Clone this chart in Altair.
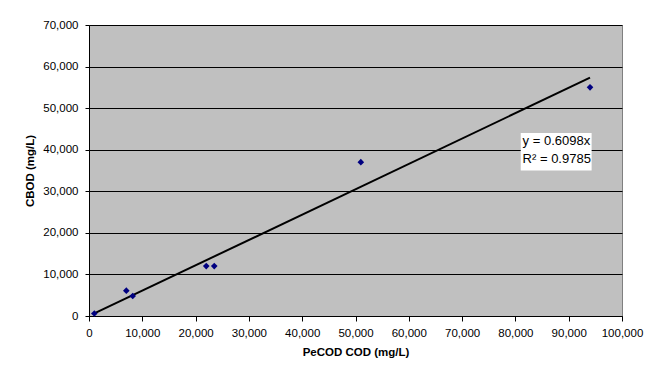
import altair as alt
import pandas as pd

# Data
pecod = [1000, 7000, 8200, 22000, 23500, 51000, 94000]
cbod = [600, 6100, 4800, 12000, 12000, 37000, 55000]
slope = 0.6098
fit_x = [min(pecod), max(pecod)]
x_ticks = list(range(0, 100001, 10000))
y_ticks = list(range(0, 70001, 10000))
eq_lines = ["y = 0.6098x", "R² = 0.9785"]

pts = pd.DataFrame({"x": pecod, "y": cbod})
fit = pd.DataFrame({"x": fit_x, "y": [slope * v for v in fit_x]})
box = pd.DataFrame({"x": [81000], "x2": [94300], "y": [44000], "y2": [35000]})
eq = pd.DataFrame({"x": [81350, 81350], "y": [42200, 37800], "t": eq_lines})

FONT = "Liberation Sans"
xs = alt.Scale(domain=[0, 100000], nice=False)
ys = alt.Scale(domain=[0, 70000], nice=False)

xax = alt.Axis(values=x_ticks, format=",.0f", title="PeCOD COD (mg/L)", grid=False,
               labelOverlap=False, labelFlush=False,
               domainColor="black", tickColor="black", tickSize=5,
               labelFont=FONT, labelFontSize=11.5, labelColor="black", labelPadding=6,
               titleFont=FONT, titleFontSize=11.5, titleFontWeight="bold", titleColor="black",
               titlePadding=8)
yax = alt.Axis(values=y_ticks, format=",.0f", title="CBOD (mg/L)", grid=True,
               labelOverlap=False, labelFlush=False,
               gridColor="black", gridWidth=1, gridOpacity=1,
               domainColor="black", tickColor="black", tickSize=4,
               labelFont=FONT, labelFontSize=11.5, labelColor="black", labelPadding=7,
               titleFont=FONT, titleFontSize=11.5, titleFontWeight="bold", titleColor="black",
               titlePadding=7)

points = alt.Chart(pts).mark_point(shape="diamond", filled=True, color="#000080", size=44, opacity=1).encode(
    x=alt.X("x:Q", scale=xs, axis=xax),
    y=alt.Y("y:Q", scale=ys, axis=yax),
)
line = alt.Chart(fit).mark_line(color="black", strokeWidth=2).encode(
    x=alt.X("x:Q", scale=xs), y=alt.Y("y:Q", scale=ys))
rect = alt.Chart(box).mark_rect(color="white").encode(
    x=alt.X("x:Q", scale=xs), x2="x2:Q", y=alt.Y("y:Q", scale=ys), y2="y2:Q")
text = alt.Chart(eq).mark_text(align="left", baseline="middle", font=FONT, fontSize=13, color="black").encode(
    x=alt.X("x:Q", scale=xs), y=alt.Y("y:Q", scale=ys), text="t:N")

chart = alt.layer(line, points, rect, text).properties(
    width=533, height=291,
    autosize=alt.AutoSizeParams(type="none"),
    padding={"left": 81, "top": 17, "right": 33, "bottom": 62},
    background="white",
).configure_view(fill="#C0C0C0", stroke="#808080", strokeWidth=1)

chart.save("out.html", embed_options={"renderer": "svg", "actions": False})
